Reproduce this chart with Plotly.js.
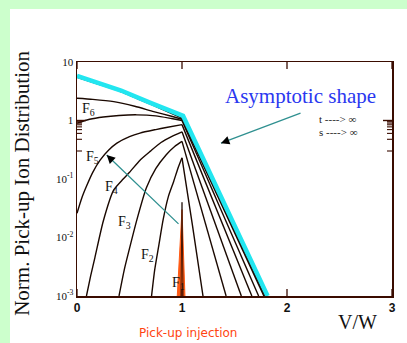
<!DOCTYPE html>
<html>
<head>
<meta charset="utf-8">
<script src="https://cdn.plot.ly/plotly-3.0.1.min.js"></script>
<style>
  html, body { margin: 0; padding: 0; background: #ccffcc; width: 407px; height: 343px; overflow: hidden; }
  #chart { position: absolute; left: 10px; top: 9px; width: 397px; height: 334px; background: #ffffff; }
</style>
</head>
<body>
<div id="chart"></div>
<script>
// Pick-up ion distributions F1..F8 versus V/W (log scale)
const v2 = [0.71, 0.74, 0.78, 0.82, 0.87, 0.92, 0.96, 1.0, 1.1, 1.2];
const f2 = [0.001, 0.0028, 0.0075, 0.02, 0.05, 0.09, 0.15, 0.23, 0.016, 0.001];

const v3 = [0.40, 0.45, 0.49, 0.57, 0.66, 0.75, 0.85, 0.93, 1.0, 1.42];
const f3 = [0.001, 0.0028, 0.0055, 0.02, 0.07, 0.15, 0.26, 0.36, 0.44, 0.001];

const v4 = [0.09, 0.13, 0.17, 0.25, 0.35, 0.44, 0.5, 0.6, 0.7, 0.8, 0.9, 1.0, 1.565];
const f4 = [0.001, 0.0022, 0.0045, 0.019, 0.065, 0.1, 0.13, 0.21, 0.3, 0.42, 0.53, 0.64, 0.001];

const v5 = [0.0, 0.045, 0.09, 0.15, 0.22, 0.3, 0.38, 0.5, 0.6, 0.75, 0.85, 1.0, 1.665];
const f5 = [0.026, 0.047, 0.075, 0.13, 0.21, 0.31, 0.41, 0.53, 0.61, 0.7, 0.76, 0.85, 0.001];

const v6 = [0.0, 0.12, 0.25, 0.4, 0.57, 0.75, 0.9, 1.0, 1.73];
const f6 = [0.9, 1.05, 1.15, 1.22, 1.25, 1.2, 1.08, 1.0, 0.001];

const v7 = [0.0, 0.15, 0.35, 0.55, 0.73, 0.9, 1.0, 1.78];
const f7 = [2.4, 2.3, 2.1, 1.75, 1.42, 1.18, 1.05, 0.001];

const v8 = [0.0, 0.2, 0.42, 0.7, 1.0, 1.79];
const f8 = [5.5, 4.2, 3.1, 1.9, 1.1, 0.001];

// Asymptotic shape (t, s -> infinity)
const vAsym = [0.0, 0.2, 0.42, 0.7, 1.01, 1.815];
const fAsym = [5.8, 4.4, 3.25, 2.0, 1.2, 0.001];

// Pick-up injection spike F1
const v1 = [0.955, 1.0, 1.028];
const f1 = [0.001, 0.03, 0.001];
const v1line = [0.99, 1.0, 1.01];
const f1line = [0.001, 0.04, 0.001];

const yTickVals = [0.001, 0.01, 0.1, 1, 10];
const yTickText = ['10<sup>-3</sup>', '10<sup>-2</sup>', '10<sup>-1</sup>', '1', '10'];
const yMinorVals = [];
[0.001, 0.01, 0.1, 1].forEach(d => { for (let k = 2; k <= 9; k++) yMinorVals.push(d * k); });
const xTickVals = [0, 1, 2, 3];
const xTickText = ['0', '1', '2', '3'];

const curveColor = '#1a0800';
const axisColor = '#3a0c00';

// Each distribution: smooth rise up to V/W = 1, nearly straight fall beyond it
function curvePair(x, y) {
  const k = x.findIndex(v => v >= 1.0);
  const base = { type: 'scatter', mode: 'lines', hoverinfo: 'skip', showlegend: false };
  return [
    Object.assign({ x: x.slice(0, k + 1), y: y.slice(0, k + 1),
      line: { color: curveColor, width: 1.4, shape: 'spline', smoothing: 0.6 } }, base),
    Object.assign({ x: x.slice(k), y: y.slice(k),
      line: { color: curveColor, width: 1.4, shape: 'spline', smoothing: 0.3 } }, base)
  ];
}

const traces = [
  { x: v1, y: f1, type: 'scatter', mode: 'lines', fill: 'toself', fillcolor: '#ff5a14',
    line: { color: '#ff5a14', width: 1 }, hoverinfo: 'skip', showlegend: false },
  { x: v1line, y: f1line, type: 'scatter', mode: 'lines',
    line: { color: curveColor, width: 0.8 }, hoverinfo: 'skip', showlegend: false },
  ...curvePair(v2, f2), ...curvePair(v3, f3), ...curvePair(v4, f4), ...curvePair(v5, f5),
  ...curvePair(v6, f6), ...curvePair(v7, f7), ...curvePair(v8, f8),
  { x: vAsym, y: fAsym, type: 'scatter', mode: 'lines',
    line: { color: '#22e6f0', width: 4.5 }, hoverinfo: 'skip', showlegend: false }
];

// Inward tick marks on all four sides of the frame
function yTick(val, len, width) {
  const ly = Math.log10(val);
  const common = { type: 'line', yref: 'y', xref: 'paper', xsizemode: 'pixel',
                   y0: ly, y1: ly, line: { color: axisColor, width: width } };
  return [
    Object.assign({ xanchor: 0, x0: 0, x1: len }, common),
    Object.assign({ xanchor: 1, x0: -len, x1: 0 }, common)
  ];
}
function xTick(val, len, width) {
  const common = { type: 'line', xref: 'x', yref: 'paper', ysizemode: 'pixel',
                   x0: val, x1: val, line: { color: axisColor, width: width } };
  return [
    Object.assign({ yanchor: 0, y0: 0, y1: len }, common),
    Object.assign({ yanchor: 1, y0: -len, y1: 0 }, common)
  ];
}
const shapes = [];
yTickVals.forEach(v => shapes.push(...yTick(v, 9, 1.4)));
yMinorVals.forEach(v => shapes.push(...yTick(v, 5, 1.1)));
xTickVals.forEach(v => shapes.push(...xTick(v, 7, 1.3)));

const serif = 'Liberation Serif, Times New Roman, serif';

function fLabel(n, x, ly) {
  return { x: x, y: ly, xref: 'x', yref: 'y', showarrow: false, xanchor: 'center', yanchor: 'middle',
           text: 'F<sub>' + n + '</sub>',
           font: { family: serif, size: 14, color: '#111' } };
}

const annotations = [
  fLabel(6, 0.105, 0.184),
  fLabel(5, 0.152, -0.624),
  fLabel(4, 0.324, -1.14),
  fLabel(3, 0.457, -1.74),
  fLabel(2, 0.676, -2.31),
  fLabel(1, 0.962, -2.79),
  // asymptote arrow: teal shaft then black head
  { x: 1.371, y: -0.388, ax: 2.143, ay: 0.137, xref: 'x', yref: 'y', axref: 'x', ayref: 'y',
    showarrow: true, arrowhead: 0, arrowwidth: 1.3, arrowcolor: '#2f9090', text: '' },
  { x: 1.371, y: -0.388, ax: 1.45, ay: -0.335, xref: 'x', yref: 'y', axref: 'x', ayref: 'y',
    showarrow: true, arrowhead: 2, arrowsize: 1.3, arrowwidth: 1.3, arrowcolor: '#000', text: '' },
  // evolution arrow
  { x: 0.283, y: -0.589, ax: 0.981, ay: -1.792, xref: 'x', yref: 'y', axref: 'x', ayref: 'y',
    showarrow: true, arrowhead: 0, arrowwidth: 1.3, arrowcolor: '#2f9090', text: '' },
  { x: 0.283, y: -0.589, ax: 0.33, ay: -0.672, xref: 'x', yref: 'y', axref: 'x', ayref: 'y',
    showarrow: true, arrowhead: 2, arrowsize: 1.3, arrowwidth: 1.3, arrowcolor: '#000', text: '' },
  { x: 2.133, y: 0.424, xref: 'x', yref: 'y', showarrow: false, xanchor: 'center', yanchor: 'middle',
    text: 'Asymptotic shape', font: { family: serif, size: 21, color: '#2a38f0' } },
  { x: 2.283, y: 0.029, xref: 'x', yref: 'y', showarrow: false, xanchor: 'left', yanchor: 'middle',
    text: 't ----&gt; ∞', font: { family: serif, size: 11, color: '#222' } },
  { x: 2.283, y: -0.189, xref: 'x', yref: 'y', showarrow: false, xanchor: 'left', yanchor: 'middle',
    text: 's ----&gt; ∞', font: { family: serif, size: 11, color: '#222' } },
  { x: -0.175, y: 0.483, xref: 'paper', yref: 'paper', showarrow: false, textangle: -90,
    xanchor: 'center', yanchor: 'middle',
    text: 'Norm. Pick-up Ion Distribution', font: { family: serif, size: 21, color: '#111' } },
  { x: 0.889, y: -0.111, xref: 'paper', yref: 'paper', showarrow: false,
    xanchor: 'center', yanchor: 'middle',
    text: 'V/W', font: { family: serif, size: 20, color: '#111' } },
  { x: 0.351, y: -0.158, xref: 'paper', yref: 'paper', showarrow: false,
    xanchor: 'center', yanchor: 'middle',
    text: 'Pick-up injection', font: { family: 'DejaVu Sans, Verdana, sans-serif', size: 12, color: '#ff4411' } }
];

const layout = {
  width: 397, height: 334,
  margin: { l: 67, r: 15, t: 53, b: 47 },
  paper_bgcolor: '#ffffff', plot_bgcolor: '#ffffff',
  showlegend: false,
  xaxis: {
    range: [0, 3], tickvals: xTickVals, ticktext: xTickText,
    ticks: '', showline: true, linecolor: axisColor, linewidth: 1.5, mirror: true,
    showgrid: false, zeroline: false,
    tickfont: { family: 'Liberation Sans, Arial, sans-serif', size: 12, color: '#111', weight: 'bold' }
  },
  yaxis: {
    type: 'log', range: [-3, 1], tickvals: yTickVals, ticktext: yTickText,
    ticks: '', showline: true, linecolor: axisColor, linewidth: 1.5, mirror: true,
    showgrid: false, zeroline: false,
    tickfont: { family: serif, size: 11, color: '#111' }
  },
  shapes: shapes,
  annotations: annotations
};

Plotly.newPlot('chart', traces, layout, { staticPlot: true, displayModeBar: false });
</script>
</body>
</html>
